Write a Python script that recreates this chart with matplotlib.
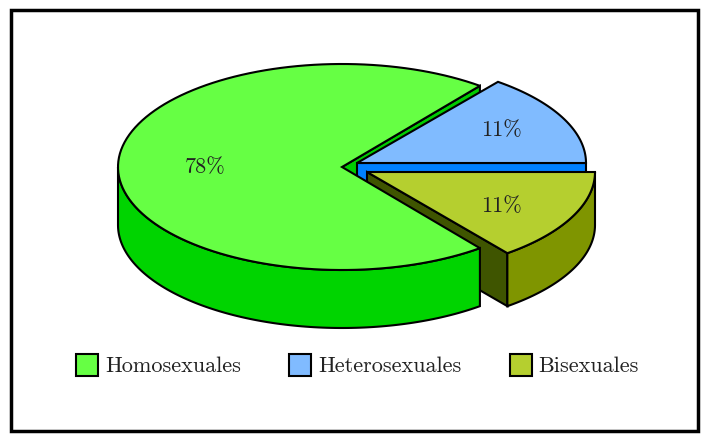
import numpy as np
import matplotlib
matplotlib.use("Agg")
import matplotlib.pyplot as plt
from matplotlib.patches import Polygon, Rectangle

categories = ["Homosexuales", "Heterosexuales", "Bisexuales"]
percent_labels = ["78%", "11%", "11%"]
slice_degrees = [256, 52, 52]      # sweep as drawn in the picture
top_colors = ["#66ff44", "#80bbff", "#b5cf2f"]
side_colors = ["#00d400", "#0080ff", "#7f9500"]
cut_colors = ["#00cc00", "#0080ff", "#3f5500"]
centers = [(342, 167), (357, 163), (367, 172)]
depths = [58, 55, 53]
radii_x = [224, 229, 228]
RY = 103

plt.rcParams["font.family"] = ["cmr10", "Liberation Serif"]
plt.rcParams["axes.formatter.use_mathtext"] = True
fig = plt.figure(figsize=(7.1, 4.42), dpi=100)
ax = fig.add_axes([0, 0, 1, 1])
ax.set_xlim(0, 710)
ax.set_ylim(442, 0)
ax.axis("off")
LW = 1.5

starts = [52, 0, 308]
ends = [s + d for s, d in zip(starts, slice_degrees)]


def rim(i, a):
    a = np.radians(a)
    cx, cy = centers[i]
    return np.column_stack([cx + radii_x[i] * np.cos(a), cy - RY * np.sin(a)])


def poly(pts, color, z):
    ax.add_patch(Polygon(pts, closed=True, fc=color, ec="black", lw=LW,
                         joinstyle="miter", zorder=z))


def top(i, z):
    arc = rim(i, np.linspace(starts[i], ends[i], 120))
    poly(np.vstack([centers[i], arc]), top_colors[i], z)


def outer(i, a0, a1, z):
    arc = rim(i, np.linspace(a0, a1, 120))
    low = arc[::-1] + [0, depths[i]]
    poly(np.vstack([arc, low]), side_colors[i], z)


def cut(i, a, z):
    c = np.array(centers[i], float)
    r = rim(i, np.array([a]))[0]
    d = np.array([0, depths[i]])
    poly([c, r, r + d, c + d], cut_colors[i], z)


cut(0, starts[0], 1)            # sliver of green above the notch
cut(1, starts[1], 2)            # blue front face
top(1, 3)
cut(2, starts[2], 4)            # dark olive face
outer(0, 180, ends[0], 5)
top(0, 6)
outer(2, starts[2], ends[2], 7)
top(2, 8)

label_pos = [(205, 167), (501, 130), (501, 206)]
for (x, y), t in zip(label_pos, percent_labels):
    ax.text(x, y, t, ha="center", va="center", fontsize=16, color="#222222", zorder=10)

legend_x = [76, 289, 510]
text_x = [105, 318, 538]
for lx, tx, name, col in zip(legend_x, text_x, categories, top_colors):
    ax.add_patch(Rectangle((lx, 354), 22, 22, fc=col, ec="black", lw=LW, zorder=10))
    ax.text(tx, 366, name, ha="left", va="center", fontsize=16, color="#222222", zorder=10)

ax.add_patch(Rectangle((11, 10), 687, 421, fill=False, ec="black", lw=2.5, zorder=11))
fig.savefig("out.png", dpi=100, facecolor="white")
